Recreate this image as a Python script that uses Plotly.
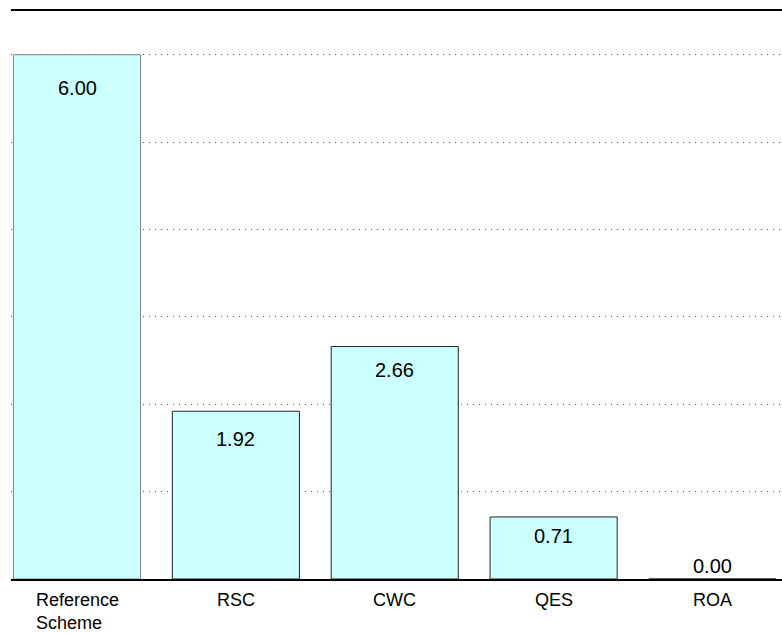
import plotly.graph_objects as go

categories = ["Reference<br>Scheme", "RSC", "CWC", "QES", "ROA"]
values = [6.00, 1.92, 2.66, 0.71, 0.00]
value_labels = ["6.00", "1.92", "2.66", "0.71", "0.00"]

# styling (pixel offsets of value labels relative to bar top)
label_shift = [-33, -28, -23, -19, 13]
bar_edge = ["#7f7f7f", "#222222", "#222222", "#222222", "#222222"]

FONT = "Liberation Sans, Arial, sans-serif"
xpos = list(range(len(categories)))

fig = go.Figure()
fig.add_trace(go.Bar(
    x=xpos, y=values, width=0.8,
    marker=dict(color="#CCFFFF", line=dict(color=bar_edge, width=1)),
    hoverinfo="skip",
))

for i, (v, lab) in enumerate(zip(values, value_labels)):
    fig.add_annotation(x=xpos[i], y=v, xref="x", yref="y", text=lab,
                       showarrow=False, yanchor="middle", yshift=label_shift[i],
                       font=dict(family=FONT, size=20, color="#000"))
    fig.add_annotation(x=xpos[i], y=0, xref="x", yref="paper", text=categories[i],
                       showarrow=False, xanchor="center", yanchor="top", align="left",
                       yshift=-9, font=dict(family=FONT, size=18, color="#000"))

fig.update_layout(
    width=782, height=633,
    margin=dict(l=11, r=0, t=11, b=54, pad=0),
    paper_bgcolor="white", plot_bgcolor="white",
    showlegend=False,
    font=dict(family=FONT, size=18, color="#000"),
    xaxis=dict(range=[-0.4154, 4.4375], showticklabels=False, ticks="",
               showgrid=False, zeroline=False, showline=True, linecolor="#000",
               linewidth=2, mirror=True, fixedrange=True),
    yaxis=dict(range=[0, 6.5], dtick=1, tick0=0, showticklabels=False, ticks="",
               showgrid=True, gridcolor="#555555", gridwidth=1, griddash="1px,5px",
               zeroline=False, showline=False, fixedrange=True),
)

fig.write_html("out.html", config={"displayModeBar": False},
               post_script="document.body.style.margin='0px';")
